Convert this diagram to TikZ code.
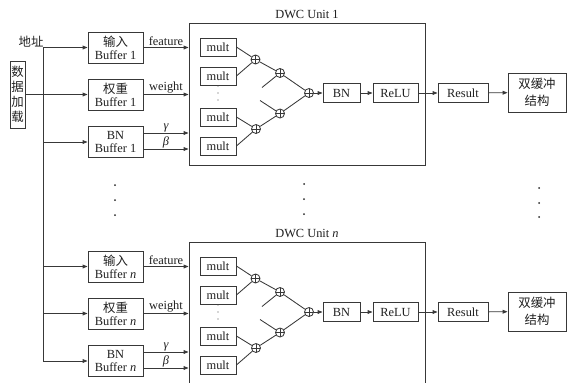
\documentclass[tikz,border=0pt]{standalone}
\usepackage{fontspec}
\setmainfont{Liberation Serif}
\newfontfamily\cjk{Noto Sans CJK SC}
\usetikzlibrary{arrows.meta,calc}
\tikzset{
  ln/.style={line width=0.85pt, draw=black!78},
  arr/.style={ln, -{Triangle[length=5pt,width=3.8pt]}},
  box/.style={ln, rectangle, inner sep=0pt, align=center, text=black!88},
  buf/.style={box, minimum width=55pt, minimum height=31pt},
  mul/.style={box, minimum width=36pt, minimum height=18pt},
  small/.style={box, minimum height=19pt},
  adder/.style={ln, circle, minimum size=9pt, inner sep=0pt,
    path picture={\draw[line width=0.65pt, black!78]
      (path picture bounding box.north) -- (path picture bounding box.south)
      (path picture bounding box.west) -- (path picture bounding box.east);}},
  lbl/.style={text=black!88, inner sep=0.5pt},
  dot/.style={fill=black!85, draw=none, circle, minimum size=2pt, inner sep=0pt},
  sdot/.style={fill=black!70, draw=none, circle, minimum size=1.2pt, inner sep=0pt}
}
\begin{document}
\begin{tikzpicture}[x=1pt, y=-1pt, font=\fontsize{12.4}{13}\selectfont]
\useasboundingbox (0,0) rectangle (568,383);
\clip (0,0) rectangle (568,383);

% data load
\node[box, minimum width=15pt, minimum height=67pt, font=\fontsize{12.4}{15}\selectfont, inner sep=1pt] (load) at (17.5,94.5) {\cjk 数\\\cjk 据\\\cjk 加\\\cjk 载};
\node[lbl] (addr) at (31,41.5) {\cjk 地址};

\foreach \u/\dy/\s in {1/0/1, n/219/\textit{n}} {
  % buffers
  \node[buf] (bufI\u) at (115.5,47.5+\dy) {{\cjk 输入}\\Buffer \s};
  \node[buf] (bufW\u) at (115.5,94.5+\dy) {{\cjk 权重}\\Buffer \s};
  \node[buf] (bufB\u) at (115.5,142+\dy) {BN\\Buffer \s};
  % bus taps
  \coordinate (busI\u) at (43,47.5+\dy);
  \coordinate (busB\u) at (43,142+\dy);
  \draw[arr] (busI\u) -- (bufI\u);
  \draw[arr] (busB\u) -- (bufB\u);
  % DWC unit
  \node[ln, rectangle, inner sep=0pt, minimum width=236pt, minimum height=142pt] (dwc\u) at (307,94+\dy) {};
  \node[lbl] (title\u) at (307,14+\dy) {DWC Unit \s};
  % buffer outputs
  \draw[arr] (bufI\u.east) -- node[lbl, above, inner sep=1pt] (lf\u) {feature} (bufI\u.east -| dwc\u.west);
  \draw[arr] (bufW\u.east) -- node[lbl, above, inner sep=1pt] (lw\u) {weight} (bufW\u.east -| dwc\u.west);
  \coordinate (g\u) at ([yshift=9pt]bufB\u.east);
  \coordinate (b\u) at ([yshift=-7pt]bufB\u.east);
  \draw[arr] (g\u) -- node[lbl, above, inner sep=0.3pt] (lg\u) {\itshape γ} (g\u -| dwc\u.west);
  \draw[arr] (b\u) -- node[lbl, above, inner sep=0.3pt] (lb\u) {\itshape β} (b\u -| dwc\u.west);
  % mults
  \node[mul] (m1\u) at (218,47+\dy) {mult};
  \node[mul] (m2\u) at (218,76+\dy) {mult};
  \node[mul] (m3\u) at (218,117+\dy) {mult};
  \node[mul] (m4\u) at (218,146+\dy) {mult};
  \node[sdot] (v1\u) at (218,86+\dy) {};
  \node[sdot] (v2\u) at (218,93+\dy) {};
  \node[sdot] (v3\u) at (218,100+\dy) {};
  % adders
  \node[adder] (a1\u) at (255.5,59.5+\dy) {};
  \node[adder] (a2\u) at (280,73+\dy) {};
  \node[adder] (a3\u) at (280,113.5+\dy) {};
  \node[adder] (a4\u) at (256,129+\dy) {};
  \node[adder] (af\u) at (309,93+\dy) {};
  \coordinate (d1\u) at (262,87.5+\dy);
  \coordinate (d2\u) at (260,100.5+\dy);
  \draw[ln] (m1\u.east) -- (a1\u);
  \draw[ln] (m2\u.east) -- (a1\u);
  \draw[ln] (m3\u.east) -- (a4\u);
  \draw[ln] (m4\u.east) -- (a4\u);
  \draw[ln] (a1\u) -- (a2\u);
  \draw[ln] (d1\u) -- (a2\u);
  \draw[ln] (a4\u) -- (a3\u);
  \draw[ln] (d2\u) -- (a3\u);
  \draw[ln] (a2\u) -- (af\u);
  \draw[ln] (a3\u) -- (af\u);
  % pipeline
  \node[small, minimum width=37pt] (bn\u) at (341.5,93+\dy) {BN};
  \node[small, minimum width=45pt] (relu\u) at (395.5,93+\dy) {ReLU};
  \node[small, minimum width=50pt] (res\u) at (463,93+\dy) {Result};
  \node[box, minimum width=58pt, minimum height=39pt, font=\fontsize{12.4}{17}\selectfont] (dbl\u) at (537,92.5+\dy) {\cjk 双缓冲\\\cjk 结构};
  \draw[arr] (af\u) -- (bn\u);
  \draw[arr] (bn\u) -- (relu\u);
  \draw[arr] (relu\u) -- (res\u);
  \draw[arr] (res\u) -- (dbl\u);
}
% weight feed from data load and bus
\draw[arr] (load.east |- bufW1.west) -- (bufW1.west);
\coordinate (busWn) at (43,313.5);
\draw[arr] (busWn) -- (bufWn);
\draw[ln] (busI1) -- (busBn);

% ellipsis dots
\foreach \x/\y [count=\i] in {115/185, 115/200, 115/215, 304/184, 304/199, 304/214, 539/188, 539/203, 539/217} {
  \node[dot] (e\i) at (\x,\y) {};
}
\end{tikzpicture}
\end{document}
